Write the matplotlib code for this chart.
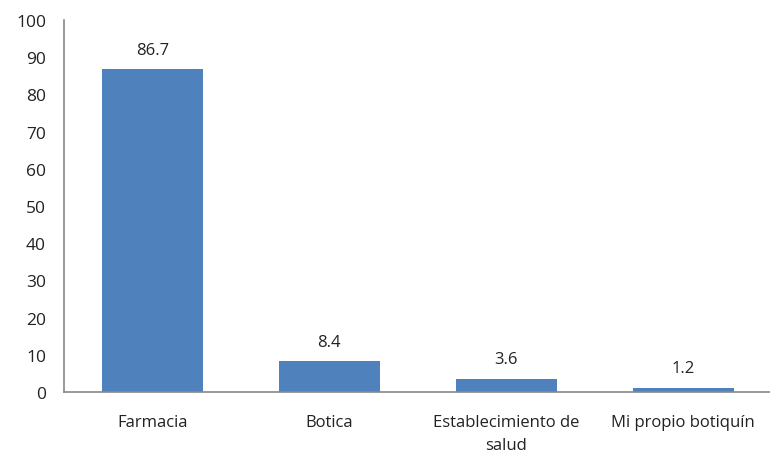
import matplotlib
matplotlib.use("Agg")
import matplotlib.pyplot as plt

categories = ["Farmacia", "Botica", "Establecimiento de\nsalud", "Mi propio botiquín"]
values = [86.7, 8.4, 3.6, 1.2]
yticks = [0, 10, 20, 30, 40, 50, 60, 70, 80, 90, 100]

plt.rcParams['font.family'] = ['Open Sans', 'DejaVu Sans']

fig = plt.figure(figsize=(7.7, 4.56), dpi=100)
ax = fig.add_axes([64/770, 1-393/456, 1-64/770, (393-21)/456])

x = list(range(len(categories)))
bars = ax.bar(x, values, width=0.57, color="#4F81BD")
for xi, v in zip(x, values):
    ax.annotate(f"{v}", (xi, v), xytext=(0, 8), textcoords="offset points",
                ha="center", va="bottom", fontsize=12, color="#222222")

ax.set_xlim(-0.5, 3.49)
ax.set_ylim(0, 100)
ax.set_yticks(yticks)
ax.set_xticks(x)
ax.set_xticklabels(categories, fontsize=12, color="#222222", linespacing=1.55)
ax.tick_params(axis='both', length=0)
ax.tick_params(axis='x', pad=16)
ax.tick_params(axis='y', pad=13, labelsize=12.5, labelcolor="#222222")
for lbl in ax.get_yticklabels():
    lbl.set_horizontalalignment('right')

for s in ["top", "right"]:
    ax.spines[s].set_visible(False)
for s in ["left", "bottom"]:
    ax.spines[s].set_color("#888888")
    ax.spines[s].set_linewidth(1.2)

fig.savefig("out.png", dpi=100)
